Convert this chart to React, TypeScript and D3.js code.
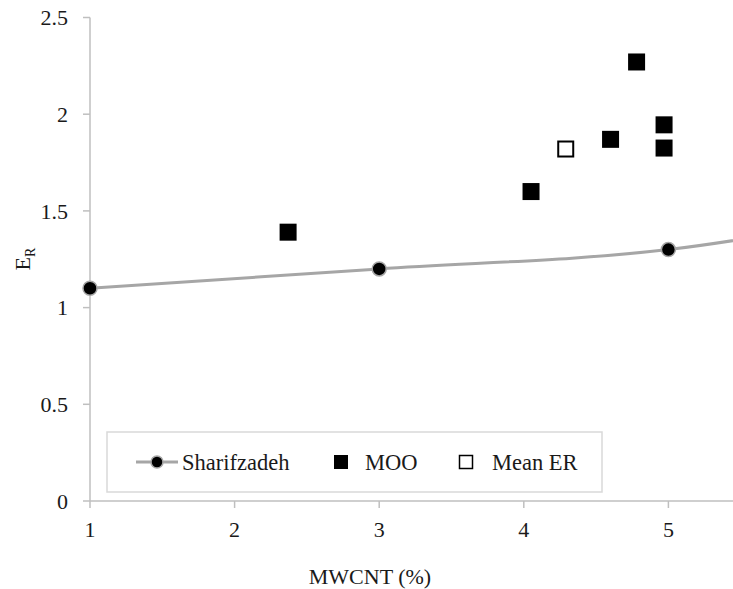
import React from "react";
import * as d3 from "d3";

// Sharifzadeh model curve (last point lies beyond the visible x range)
const sharifX = [1, 3, 5, 7];
const sharifY = [1.1, 1.2, 1.3, 1.55];

// MOO results
const mooX = [2.37, 4.05, 4.6, 4.78, 4.97, 4.97];
const mooY = [1.39, 1.6, 1.87, 2.27, 1.945, 1.825];

// Mean ER
const meanX = [4.29];
const meanY = [1.82];

const xTicks = [1, 2, 3, 4, 5];
const yTicks = [0, 0.5, 1, 1.5, 2, 2.5];
const yTickLabels = ["0", "0.5", "1", "1.5", "2", "2.5"];

const W = 733;
const H = 589;
const FONT = "'Liberation Serif', 'Times New Roman', serif";

export default function App() {
  const x = d3.scaleLinear().domain([1, 5.5]).range([90, 740.7]);
  const y = d3.scaleLinear().domain([0, 2.5]).range([501, 17.5]);

  const sharif = sharifX.map((v, i) => [v, sharifY[i]] as [number, number]);
  const line = d3
    .line<[number, number]>()
    .x((d) => x(d[0]))
    .y((d) => y(d[1]))
    .curve(d3.curveCatmullRom.alpha(0.5));

  const axisColor = "#bfbfbf";
  const sq = 17;

  return (
    <svg
      width={W}
      height={H}
      style={{ position: "absolute", left: 0, top: 0, background: "#fff" }}
      fontFamily={FONT}
    >
      <rect x={0} y={0} width={W} height={H} fill="#fff" />
      {/* axes */}
      <line x1={x(1)} x2={x(1)} y1={y(2.5)} y2={y(0)} stroke={axisColor} strokeWidth={1.5} />
      <line x1={x(1)} x2={x(5.5)} y1={y(0)} y2={y(0)} stroke={axisColor} strokeWidth={1.5} />
      {yTicks.map((t, i) => (
        <g key={"yt" + i}>
          <line x1={x(1) - 7} x2={x(1)} y1={y(t)} y2={y(t)} stroke={axisColor} strokeWidth={1.5} />
          <text x={68} y={y(t)} dy="0.35em" textAnchor="end" fontSize={22} fill="#1a1a1a">
            {yTickLabels[i]}
          </text>
        </g>
      ))}
      {xTicks.map((t) => (
        <g key={"xt" + t}>
          <line x1={x(t)} x2={x(t)} y1={y(0)} y2={y(0) + 7} stroke={axisColor} strokeWidth={1.5} />
          <text x={x(t)} y={537} textAnchor="middle" fontSize={22} fill="#1a1a1a">
            {t}
          </text>
        </g>
      ))}
      <text x={370} y={584} textAnchor="middle" fontSize={22} fill="#1a1a1a">
        MWCNT (%)
      </text>
      <text transform="translate(30,259) rotate(-90)" textAnchor="middle" fontSize={22} fill="#1a1a1a">
        E<tspan fontSize={14} dy={5}>R</tspan>
      </text>

      {/* legend */}
      <rect x={107} y={432} width={495} height={60} fill="#fff" stroke="#d9d9d9" strokeWidth={1.5} />
      <line x1={136} x2={178} y1={462} y2={462} stroke="#a6a6a6" strokeWidth={3} />
      <circle cx={157} cy={462} r={6} fill="#000" stroke="#a6a6a6" strokeWidth={1.5} />
      <text x={182} y={462} dy="0.35em" fontSize={22.5} fill="#1a1a1a">Sharifzadeh</text>
      <rect x={341 - 7} y={462 - 7} width={14} height={14} fill="#000" />
      <text x={365} y={462} dy="0.35em" fontSize={22.5} fill="#1a1a1a">MOO</text>
      <rect x={466 - 6.5} y={462 - 6.5} width={13} height={13} fill="#fff" stroke="#000" strokeWidth={1.5} />
      <text x={492} y={462} dy="0.35em" fontSize={22.5} fill="#1a1a1a">Mean ER</text>

      {/* Sharifzadeh line and markers */}
      <path d={line(sharif) || ""} fill="none" stroke="#a6a6a6" strokeWidth={3} />
      {sharif
        .filter((d) => d[0] <= 5.5)
        .map((d, i) => (
          <circle key={"s" + i} cx={x(d[0])} cy={y(d[1])} r={7} fill="#000" stroke="#a6a6a6" strokeWidth={1.5} />
        ))}

      {/* MOO squares */}
      {mooX.map((v, i) => (
        <rect key={"m" + i} x={x(v) - sq / 2} y={y(mooY[i]) - sq / 2} width={sq} height={sq} fill="#000" />
      ))}
      {/* Mean ER */}
      {meanX.map((v, i) => (
        <rect
          key={"e" + i}
          x={x(v) - 7.5}
          y={y(meanY[i]) - 7.5}
          width={15}
          height={15}
          fill="#fff"
          stroke="#000"
          strokeWidth={2}
        />
      ))}
    </svg>
  );
}
